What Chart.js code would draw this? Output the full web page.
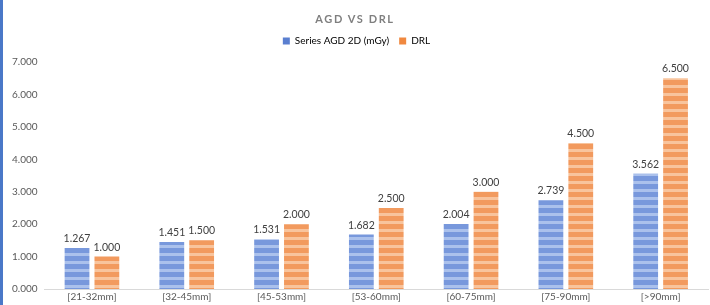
<!DOCTYPE html>
<html>
<head>
<meta charset="utf-8">
<script src="https://cdn.jsdelivr.net/npm/chart.js@4"></script>
<style>
  html, body { margin: 0; padding: 0; background: #ffffff; }
  .wrap { position: relative; width: 710px; height: 305px; overflow: hidden; }
  .edge { position: absolute; left: 0; top: 0; width: 3px; height: 305px; background: #4a78c8; }
  .title {
    position: absolute; left: 0; top: 12px; width: 710px; text-align: center;
    font-family: Lato, sans-serif; font-weight: 700; font-size: 11px;
    letter-spacing: 1.6px; color: #7f7f7f;
  }
  canvas { position: absolute; left: 0; top: 0; }
</style>
</head>
<body>
<div class="wrap">
  <canvas id="chart" width="710" height="305"></canvas>
  <div class="edge"></div>
  <div class="title">AGD VS DRL</div>
</div>
<script>
const categories = ['[21-32mm]', '[32-45mm]', '[45-53mm]', '[53-60mm]', '[60-75mm]', '[75-90mm]', '[>90mm]'];
const agdValues = [1.267, 1.451, 1.531, 1.682, 2.004, 2.739, 3.562];
const drlValues = [1.000, 1.500, 2.000, 2.500, 3.000, 4.500, 6.500];
const seriesNames = ['Series AGD 2D (mGy)', 'DRL'];
const yMax = 7;
const yStep = 1;

// striped fill like the office picture pattern
function stripes(dark, light) {
    var c = document.createElement('canvas');
    c.width = 8;
    c.height = 8;
    var g = c.getContext('2d');
    g.fillStyle = dark;
    g.fillRect(0, 0, 8, 8);
    g.fillStyle = light;
    g.fillRect(0, 5, 8, 3);
    return g.createPattern(c, 'repeat');
}

var ctx = document.getElementById('chart').getContext('2d');
var blueFill = stripes('#7898dc', '#abc1ec');
var orangeFill = stripes('#f29a5e', '#f8c49d');
var solidColors = ['#5a7fd0', '#f0883f'];

const valueLabels = {
    id: 'valueLabels',
    afterDatasetsDraw(chart) {
        var c = chart.ctx;
        c.save();
        c.font = '10.5px Lato, sans-serif';
        c.fillStyle = '#404040';
        c.textAlign = 'center';
        c.textBaseline = 'bottom';
        chart.data.datasets.forEach(function (ds, i) {
            chart.getDatasetMeta(i).data.forEach(function (bar, j) {
                c.fillText(ds.data[j].toFixed(3), bar.x, bar.y - 4);
            });
        });
        c.restore();
    }
};

// a bit more room under the legend
const legendGap = {
    id: 'legendGap',
    beforeInit(chart) {
        var fit = chart.legend.fit;
        chart.legend.fit = function () {
            fit.bind(chart.legend)();
            this.height += 6;
        };
    }
};

var myChart = new Chart(ctx, {
    type: 'bar',
    data: {
        labels: categories,
        datasets: [{
            label: seriesNames[0],
            data: agdValues,
            backgroundColor: blueFill,
            borderWidth: 0,
            categoryPercentage: 0.63,
            barPercentage: 0.83
        },
        {
            label: seriesNames[1],
            data: drlValues,
            backgroundColor: orangeFill,
            borderWidth: 0,
            categoryPercentage: 0.63,
            barPercentage: 0.83
        }]
    },
    options: {
        responsive: false,
        animation: false,
        layout: {
            padding: { top: 26, left: 5, right: 2, bottom: 0 }
        },
        plugins: {
            title: { display: false },
            tooltip: { enabled: false },
            legend: {
                position: 'top',
                labels: {
                    boxWidth: 7,
                    boxHeight: 7,
                    padding: 10,
                    color: '#595959',
                    font: { size: 10, family: 'Lato, sans-serif' },
                    generateLabels: function (chart) {
                        return chart.data.datasets.map(function (ds, i) {
                            return {
                                text: ds.label,
                                fillStyle: solidColors[i],
                                strokeStyle: solidColors[i],
                                lineWidth: 0,
                                datasetIndex: i
                            };
                        });
                    }
                }
            }
        },
        scales: {
            x: {
                grid: { display: false, drawTicks: false },
                border: { display: true, color: '#d9d9d9', width: 1 },
                ticks: {
                    color: '#595959',
                    padding: 2,
                    font: { size: 10, family: 'Lato, sans-serif' }
                }
            },
            y: {
                min: 0,
                max: yMax,
                grid: { display: false, drawTicks: false },
                border: { display: false },
                ticks: {
                    stepSize: yStep,
                    color: '#595959',
                    padding: 7,
                    font: { size: 10, family: 'Lato, sans-serif' },
                    callback: function (v) { return v.toFixed(3); }
                }
            }
        }
    },
    plugins: [valueLabels, legendGap]
});
</script>
</body>
</html>
